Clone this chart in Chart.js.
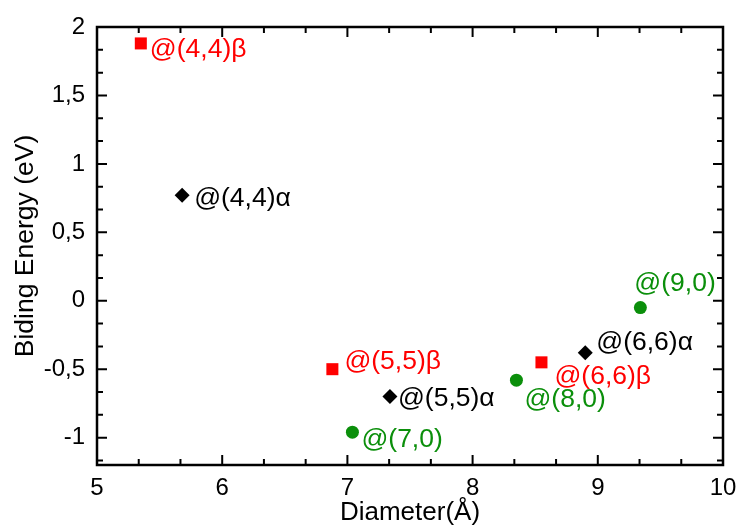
<!DOCTYPE html>
<html>
<head>
<meta charset="utf-8">
<script src="https://cdn.jsdelivr.net/npm/chart.js@4"></script>
<style>
  html, body { margin: 0; padding: 0; background: #fff; }
  #wrap { width: 739px; height: 527px; }
</style>
</head>
<body>
<div id="wrap"><canvas id="bindingChart"></canvas></div>
<script>
// values
var betaNames = ['@(4,4)\u03b2', '@(5,5)\u03b2', '@(6,6)\u03b2'];
var betaDiam = [5.35, 6.88, 8.55];
var betaEnergy = [1.88, -0.50, -0.45];

var alphaNames = ['@(4,4)\u03b1', '@(5,5)\u03b1', '@(6,6)\u03b1'];
var alphaDiam = [5.68, 7.34, 8.90];
var alphaEnergy = [0.77, -0.70, -0.38];

var zigzagNames = ['@(7,0)', '@(8,0)', '@(9,0)'];
var zigzagDiam = [7.04, 8.35, 9.34];
var zigzagEnergy = [-0.96, -0.58, -0.05];

var xTicks = [5, 6, 7, 8, 9, 10];
var yTicks = [-1, -0.5, 0, 0.5, 1, 1.5, 2];

// where each label sits relative to its marker (px)
var betaLabelShift = [[9, 6], [12, -8], [13, 14]];
var alphaLabelShift = [[12, 3], [8, 2], [11, -10]];
var zigzagLabelShift = [[9, 8], [8, 20], [-6, -24]];

var RED = '#ff0000', BLACK = '#000000', GREEN = '#0b8f0b';
var FONT = "'Liberation Sans', Arial, Helvetica, sans-serif";

function toPoints(xs, ys) {
  return xs.map(function (x, i) { return { x: x, y: ys[i] }; });
}

function fmt(v) {
  return String(v).replace('.', ',');
}

// ticks pointing inward on all four sides, plus the box
var frameAndTicks = {
  id: 'frameAndTicks',
  afterDraw: function (chart) {
    var ctx = chart.ctx, a = chart.chartArea;
    var xs = chart.scales.x, ys = chart.scales.y;
    ctx.save();
    ctx.strokeStyle = '#000';
    ctx.lineWidth = 2.5;
    ctx.strokeRect(a.left, a.top, a.right - a.left, a.bottom - a.top);
    ctx.lineWidth = 2;
    ctx.beginPath();
    for (var i = 0; i <= 15; i++) {
      var xv = 5 + i / 3;
      var px = xs.getPixelForValue(xv);
      var len = (i % 3 === 0) ? 10 : 6;
      ctx.moveTo(px, a.bottom); ctx.lineTo(px, a.bottom - len);
      ctx.moveTo(px, a.top); ctx.lineTo(px, a.top + len);
    }
    for (var j = 0; j <= 19; j++) {
      var yv = 2 - j / 6;
      var py = ys.getPixelForValue(yv);
      var l2 = (j % 3 === 0) ? 10 : 6;
      ctx.moveTo(a.left, py); ctx.lineTo(a.left + l2, py);
      ctx.moveTo(a.right, py); ctx.lineTo(a.right - l2, py);
    }
    ctx.stroke();
    ctx.restore();
  }
};

// text next to every marker
var pointLabels = {
  id: 'pointLabels',
  afterDatasetsDraw: function (chart) {
    var ctx = chart.ctx;
    ctx.save();
    ctx.font = '26.5px ' + FONT;
    ctx.textAlign = 'left';
    ctx.textBaseline = 'middle';
    chart.data.datasets.forEach(function (ds) {
      ds.data.forEach(function (p, i) {
        var px = chart.scales.x.getPixelForValue(p.x);
        var py = chart.scales.y.getPixelForValue(p.y);
        ctx.fillStyle = ds.labelColor;
        ctx.fillText(ds.names[i], px + ds.shifts[i][0], py + ds.shifts[i][1]);
      });
    });
    ctx.restore();
  }
};

var chartConfig = {
  type: 'scatter',
  data: {
    datasets: [{
      data: toPoints(betaDiam, betaEnergy),
      names: betaNames, shifts: betaLabelShift, labelColor: RED,
      pointStyle: 'rect', pointRadius: 8.5,
      backgroundColor: RED, borderColor: RED, borderWidth: 0
    }, {
      data: toPoints(alphaDiam, alphaEnergy),
      names: alphaNames, shifts: alphaLabelShift, labelColor: BLACK,
      pointStyle: 'rectRot', pointRadius: 7.5,
      backgroundColor: BLACK, borderColor: BLACK, borderWidth: 0
    }, {
      data: toPoints(zigzagDiam, zigzagEnergy),
      names: zigzagNames, shifts: zigzagLabelShift, labelColor: GREEN,
      pointStyle: 'circle', pointRadius: 6.5,
      backgroundColor: GREEN, borderColor: GREEN, borderWidth: 0
    }]
  },
  options: {
    responsive: true,
    maintainAspectRatio: false,
    animation: false,
    layout: { padding: { left: 0, top: 27, right: 16, bottom: 0 } },
    plugins: {
      legend: { display: false },
      tooltip: { enabled: false }
    },
    scales: {
      x: {
        type: 'linear',
        min: 5, max: 10,
        afterBuildTicks: function (s) { s.ticks = xTicks.map(function (v) { return { value: v }; }); },
        afterFit: function (s) { s.height = 62; s.paddingLeft = 0; s.paddingRight = 0; },
        grid: { display: false, drawTicks: false },
        border: { display: false },
        ticks: { color: '#000', padding: 9, font: { family: FONT, size: 24 }, callback: function (v) { return fmt(v); } },
        title: { display: true, text: 'Diameter(\u00c5)', color: '#000', padding: { top: 0, bottom: 0 }, font: { family: FONT, size: 26, lineHeight: 1.1 } }
      },
      y: {
        type: 'linear',
        min: -1.2, max: 2,
        afterBuildTicks: function (s) { s.ticks = yTicks.map(function (v) { return { value: v }; }); },
        afterFit: function (s) { s.width = 97; s.paddingTop = 0; s.paddingBottom = 0; },
        grid: { display: false, drawTicks: false },
        border: { display: false },
        ticks: { color: '#000', padding: 12, font: { family: FONT, size: 24 }, callback: function (v) { return fmt(v); } },
        title: { display: true, text: 'Biding Energy (eV)', color: '#000', padding: { top: 10, bottom: 0 }, font: { family: FONT, size: 26.5 } }
      }
    }
  },
  plugins: [frameAndTicks, pointLabels]
};

var bindingChart = new Chart(document.getElementById('bindingChart'), chartConfig);
</script>
</body>
</html>
